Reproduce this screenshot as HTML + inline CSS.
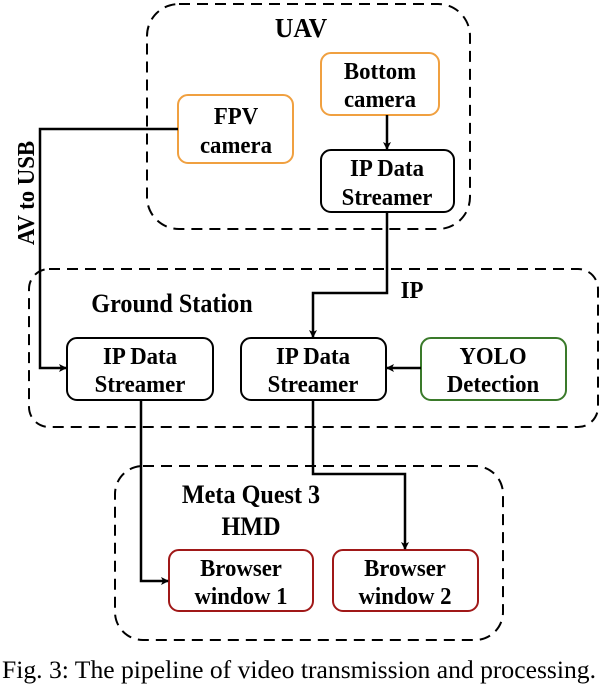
<!DOCTYPE html>
<html><head><meta charset="utf-8"><style>
html,body{margin:0;padding:0;background:#fff;}
svg{display:block;}
text{font-family:"Liberation Serif",serif;}
.b{font-weight:bold;text-anchor:middle;}
</style></head><body>
<svg width="600" height="684" viewBox="0 0 600 684" xmlns="http://www.w3.org/2000/svg">
<defs><marker id="a" markerWidth="8" markerHeight="8" refX="7" refY="4" orient="auto" markerUnits="userSpaceOnUse"><path d="M0,0 L8,4 L0,8 L2,4 Z" fill="#000"/></marker></defs>
<g fill="none" stroke="#000" stroke-width="2" stroke-dasharray="11,7">
<rect x="147" y="4" width="323" height="225" rx="32"/>
<rect x="29" y="269" width="569" height="158" rx="20"/>
<rect x="115" y="466" width="388" height="174" rx="28"/>
</g>
<g fill="none" stroke-width="2">
<rect x="321" y="53" width="118" height="62" rx="10" stroke="#f0a040"/>
<rect x="178" y="95" width="115" height="68" rx="10" stroke="#f0a040"/>
<rect x="321" y="150" width="133" height="62" rx="10" stroke="#000"/>
<rect x="67" y="338" width="146" height="62" rx="10" stroke="#000"/>
<rect x="241" y="338" width="145" height="62" rx="10" stroke="#000"/>
<rect x="421" y="338" width="145" height="62" rx="10" stroke="#3a7a2a"/>
<rect x="169" y="550" width="144" height="61" rx="10" stroke="#a01818"/>
<rect x="333" y="550" width="145" height="61" rx="10" stroke="#a01818"/>
</g>
<g fill="none" stroke="#000" stroke-width="2.5">
<path d="M387 115 V149" marker-end="url(#a)"/>
<path d="M178 129 H40 V368 H66" marker-end="url(#a)"/>
<path d="M387 212 V293 H313 V337" marker-end="url(#a)"/>
<path d="M421 368 H387" marker-end="url(#a)"/>
<path d="M141 400 V581 H168" marker-end="url(#a)"/>
<path d="M313 400 V474 H405 V549" marker-end="url(#a)"/>
</g>
<g class="b" font-size="24">
<text transform="translate(301,37) scale(0.95,1)" font-size="27">UAV</text>
<text transform="translate(380,79) scale(0.95,1)">Bottom</text>
<text transform="translate(380,107) scale(0.95,1)">camera</text>
<text transform="translate(236,124) scale(0.95,1)">FPV</text>
<text transform="translate(236,153) scale(0.95,1)">camera</text>
<text transform="translate(387,176) scale(0.95,1)">IP Data</text>
<text transform="translate(387,205) scale(0.95,1)">Streamer</text>
<text transform="translate(172,312) scale(0.93,1)" font-size="26">Ground Station</text>
<text transform="translate(412,298) scale(0.95,1)">IP</text>
<text transform="translate(140,364) scale(0.95,1)">IP Data</text>
<text transform="translate(140,392) scale(0.95,1)">Streamer</text>
<text transform="translate(313,364) scale(0.95,1)">IP Data</text>
<text transform="translate(313,392) scale(0.95,1)">Streamer</text>
<text transform="translate(493,364) scale(0.95,1)">YOLO</text>
<text transform="translate(493,392) scale(0.95,1)">Detection</text>
<text transform="translate(251,503) scale(0.93,1)" font-size="26">Meta Quest 3</text>
<text transform="translate(251,535) scale(0.93,1)" font-size="26">HMD</text>
<text transform="translate(241,576) scale(0.95,1)">Browser</text>
<text transform="translate(241,604) scale(0.95,1)">window 1</text>
<text transform="translate(405,576) scale(0.95,1)">Browser</text>
<text transform="translate(405,604) scale(0.95,1)">window 2</text>
<text transform="translate(34,193) rotate(-90) scale(0.95,1)">AV to USB</text>
</g>
<text x="299" y="678" font-size="25" text-anchor="middle" textLength="594" lengthAdjust="spacingAndGlyphs">Fig. 3: The pipeline of video transmission and processing.</text>
</svg>
</body></html>
